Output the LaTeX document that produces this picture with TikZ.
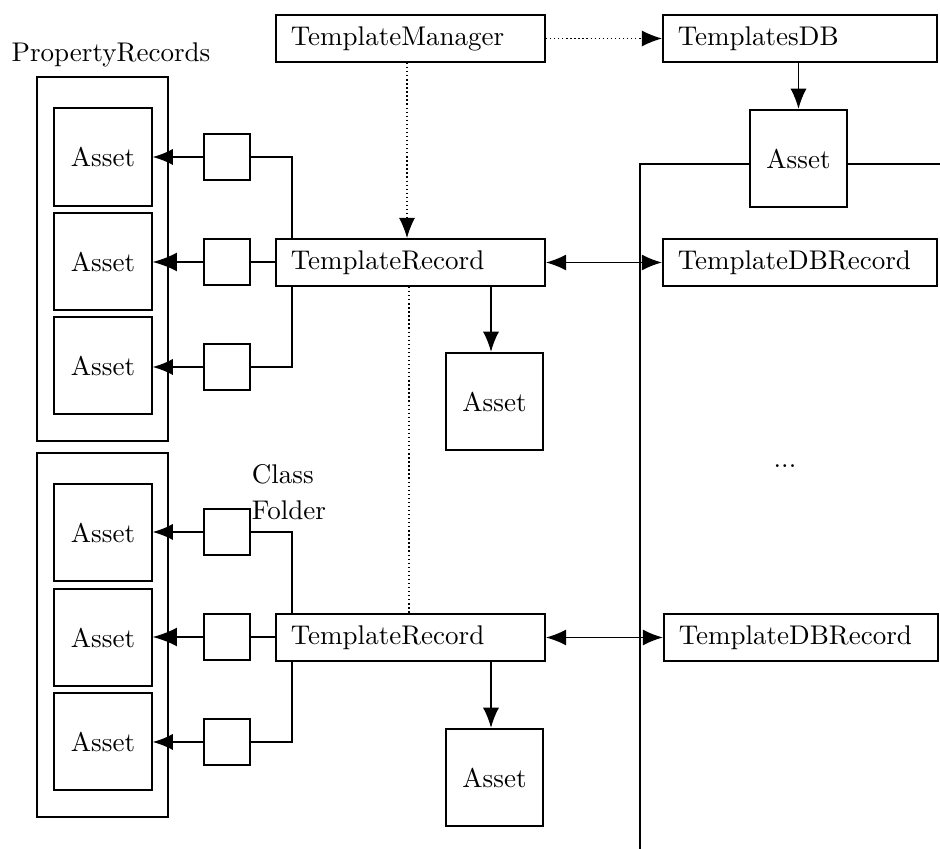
\documentclass[tikz,border=0pt]{standalone}
\usetikzlibrary{arrows.meta}
\begin{document}
\begin{tikzpicture}[x=0.37pt,y=-0.37pt,line width=0.7pt,>={Latex[length=7.5pt,width=6pt]}]

	\def \upper{262.5}
	\def \lower{637.5}
	\tikzstyle{rec}=[draw,minimum height=17.4pt,text width=88.5pt,inner xsep=5.5pt,align=left]
	\tikzstyle{dbrec}=[rec,text width=90.4pt]
	\tikzstyle{asset}=[draw,minimum width=36pt,minimum height=36pt,inner sep=0pt]
	\tikzstyle{prop}=[draw,minimum size=17pt,inner sep=0pt]
	\tikzstyle{grp}=[draw,minimum width=48.5pt,minimum height=134.7pt,inner sep=0pt]
	\tikzstyle{annot}=[inner sep=0pt]
	\tikzstyle{dots}=[line width=0.5pt,densely dotted]
	\useasboundingbox (0,0) rectangle (940,849);

	% labels
	\node[annot] (proplabel) at (111,55) {PropertyRecords};
	\node[annot,anchor=west,align=left] (classlabel) at (251,492) {Class\\[1.5pt]Folder};
	\node[annot] (etc) at (785,466) {...};

	% property record groups
	\node[grp] (grpA) at (102.5,259) {};
	\node[grp] (grpB) at (102.5,635) {};
	\node[asset] (a1) at (103,157) {Asset};
	\node[asset] (a2) at (103,261.5) {Asset};
	\node[asset] (a3) at (103,365.5) {Asset};
	\node[asset] (b1) at (103,532.5) {Asset};
	\node[asset] (b2) at (103,637.5) {Asset};
	\node[asset] (b3) at (103,741.5) {Asset};

	% property boxes
	\node[prop] (pa1) at (227,157) {};
	\node[prop] (pa2) at (227,262) {};
	\node[prop] (pa3) at (227,367) {};
	\node[prop] (pb1) at (227,532) {};
	\node[prop] (pb2) at (227,637) {};
	\node[prop] (pb3) at (227,742) {};

	% records
	\node[rec] (tm) at (410.5,38.5) {TemplateManager};
	\node[rec] (tr1) at (410.5,\upper) {TemplateRecord};
	\node[rec] (tr2) at (410.5,\lower) {TemplateRecord};
	\node[asset] (ra1) at (494.5,401.5) {Asset};
	\node[asset] (ra2) at (494.5,777.5) {Asset};

	% database side
	\node[dbrec] (tdb) at (800,38.5) {TemplatesDB};
	\node[asset] (dbasset) at (798.5,158.5) {Asset};
	\node[dbrec] (tdbr1) at (800,\upper) {TemplateDBRecord};
	\node[dbrec] (tdbr2) at (801,\lower) {TemplateDBRecord};
	\coordinate (mx) at (407,0);
	\coordinate (nx) at (409,0);
	\coordinate (ax) at (491,0);
	\coordinate (busend) at (640,849);
	\coordinate (busright) at (940,165);

	% connectors
	\draw[->] (pa1.west) -- (pa1.west -| a1.east);
	\draw[-{Latex[length=9pt,width=7pt]}] (pa2.west) -- (pa2.west -| a2.east);
	\draw[->] (pa3.west) -- (pa3.west -| a3.east);
	\draw[->] (pb1.west) -- (pb1.west -| b1.east);
	\draw[-{Latex[length=9pt,width=7pt]}] (pb2.west) -- (pb2.west -| b2.east);
	\draw[->] (pb3.west) -- (pb3.west -| b3.east);
	\draw (pa1.east) -| ([xshift=6.3pt]tr1.north west);
	\draw (pa2.east) -- (pa2.east -| tr1.west);
	\draw (pa3.east) -| ([xshift=6.3pt]tr1.south west);
	\draw (pb1.east) -| ([xshift=6.3pt]tr2.north west);
	\draw (pb2.east) -- (pb2.east -| tr2.west);
	\draw (pb3.east) -| ([xshift=6.3pt]tr2.south west);
	\draw[dots,->] (tm.south -| mx) -- (tr1.north -| mx);
	\draw[dots] (tr1.south -| nx) -- (tr2.north -| nx);
	\draw[dots,->] (tm.east) -- (tm.east -| tdb.west);
	\draw[->] (tdb.south -| dbasset.north) -- (dbasset.north);
	\draw[->] (tr1.south -| ax) -- (ra1.north -| ax);
	\draw[->] (tr2.south -| ax) -- (ra2.north -| ax);
	\draw[<->] (tr1.east) -- (tr1.east -| tdbr1.west);
	\draw[<->] (tr2.east) -- (tr2.east -| tdbr2.west);
	\draw ([yshift=-2.2pt]dbasset.west) -| (busend);
	\draw ([yshift=-2.2pt]dbasset.east) -- ([yshift=-2.2pt]dbasset.east -| busright);
\end{tikzpicture}
\end{document}
